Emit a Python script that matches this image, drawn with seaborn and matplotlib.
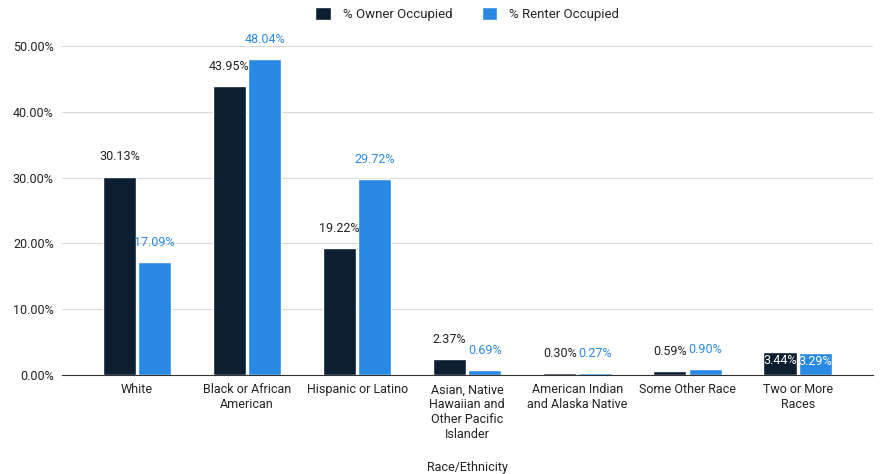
import pandas as pd
import numpy as np
import matplotlib.pyplot as plt
import seaborn as sns

sns.set_style('white')
plt.rcParams['font.family'] = ['Roboto', 'DejaVu Sans']

# data
categories = ['White', 'Black or African\nAmerican', 'Hispanic or Latino',
              'Asian, Native\nHawaiian and\nOther Pacific\nIslander',
              'American Indian\nand Alaska Native', 'Some Other Race',
              'Two or More\nRaces']
owner = [30.13, 43.95, 19.22, 2.37, 0.30, 0.59, 3.44]
renter = [17.09, 48.04, 29.72, 0.69, 0.27, 0.90, 3.29]
series = ['% Owner Occupied', '% Renter Occupied']
label_inside = [False, False, False, False, False, False, True]

colors = ['#0c1f31', '#2a8ae3']

df = pd.DataFrame({'Race/Ethnicity': categories * 2,
                   'value': owner + renter,
                   'series': [series[0]] * len(categories) + [series[1]] * len(categories)})

fig = plt.figure(figsize=(8.8, 4.74), dpi=100)
ax = fig.add_axes([0.0705, 0.209, 0.921, 0.694])

sns.barplot(data=df, x='Race/Ethnicity', y='value', hue='series',
            palette=colors, width=0.64, gap=0.06, ax=ax, zorder=3,
            saturation=1)

ax.set_ylim(0, 50)
ax.set_xlim(-0.68, 6.68)
ax.set_yticks(np.arange(0, 51, 10))
ax.set_yticklabels([f'{v:.2f}%' for v in np.arange(0, 51, 10)], fontsize=9, color='#222222')
ax.tick_params(axis='x', labelsize=9, colors='#222222', length=0, pad=6)
ax.tick_params(axis='y', length=0, pad=6)
ax.yaxis.grid(True, color='#d9d9d9', linewidth=0.8, zorder=0)
for s in ['top', 'right', 'left']:
    ax.spines[s].set_visible(False)
ax.spines['bottom'].set_color('#333333')
ax.spines['bottom'].set_zorder(4)
ax.set_ylabel('')
ax.set_xlabel('Race/Ethnicity', fontsize=9, color='#222222', labelpad=14)

# value labels
for c, container in enumerate(ax.containers):
    for i, bar in enumerate(container):
        h = bar.get_height()
        xc = bar.get_x() + bar.get_width() / 2
        txt = f'{h:.2f}%'
        if label_inside[i]:
            ax.text(xc, h - 1.2, txt, ha='center', va='center', fontsize=9,
                    color='white', zorder=5)
        else:
            ax.text(xc, h + 3, txt, ha='center', va='center', fontsize=9,
                    color='#222222' if c == 0 else colors[1], zorder=5)

ax.legend(loc='center', bbox_to_anchor=(0.5, 1.098), ncol=2, frameon=False,
          fontsize=9.5, handlelength=1.2, handleheight=1.2, columnspacing=2.2,
          handletextpad=0.9, title=None)

fig.savefig('out.png', dpi=100)
